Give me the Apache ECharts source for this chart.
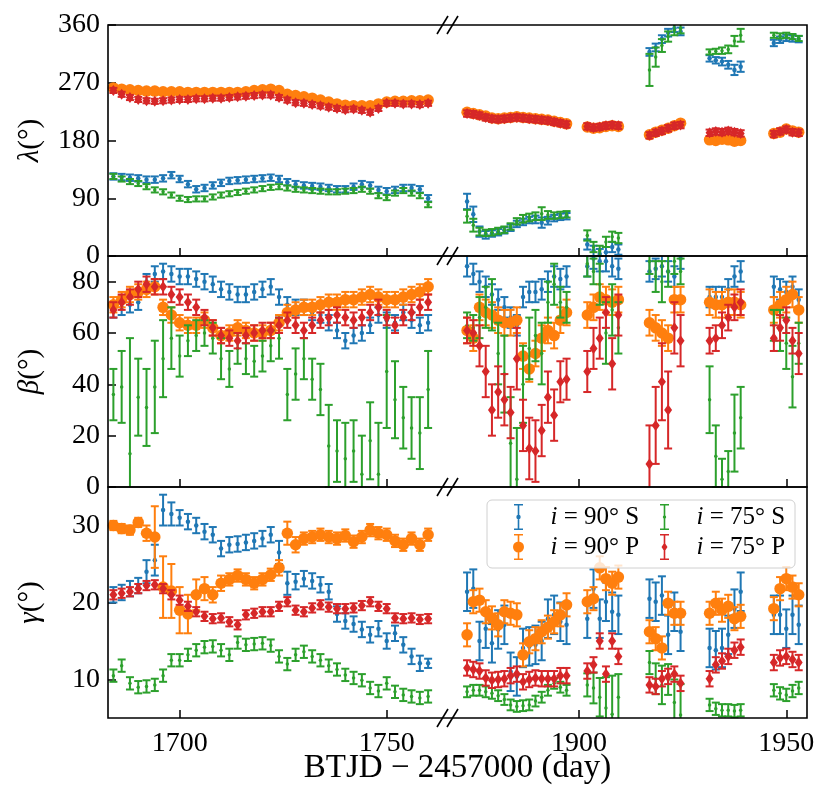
<!DOCTYPE html>
<html>
<head>
<meta charset="utf-8">
<script src="https://cdn.jsdelivr.net/npm/echarts@6/dist/echarts.min.js"></script>
<style>
  html, body { margin: 0; padding: 0; background: #fff; }
  #main { width: 831px; height: 799px; }
</style>
</head>
<body>
<div id="main"></div>
<script>
// time grid (BTJD - 2457000) for the two halves of the broken axis
var tL = [1684,1686,1688,1690,1692,1694,1696,1698,1700,1702,1704,1706,1708,1710,1712,1714,1716,1718,1720,1722,
          1724,1726,1728,1730,1732,1734,1736,1738,1740,1742,1744,1746,1748,1750,1752,1754,1756,1758,1760];
var tR = [1873,1874.5,1876,1877.5,1879,1880.5,1882,1883.5,1885,1886.5,1888,1889.5,1891,1892.5,1894,1895.5,1897,
          1902,1903.5,1905,1906.5,1908,1909.5,
          1917,1918.5,1920,1921.5,1923,1924.5,
          1931.5,1933,1934.5,1936,1937.5,1939,
          1947,1948.5,1950,1951.5,1953];

// lambda
var lamBlueL   = [124,123,122,121,119,119,121,126,120,112,104,106,110,114,117,118,119,120,121,122,120,115,112,110,109,108,106,104,104,108,112,110,103,101,103,106,106,104,90];
var lamOrangeL = [262,260,259,258,257,257,256,256,256,255,255,255,255,255,255,255,256,258,259,260,258,252,250,248,246,243,240,237,235,234,234,234,237,240,241,241,242,242,243];
var lamGreenL  = [124,120,116,113,108,103,100,95,90,88,89,89,92,95,97,99,101,103,105,107,108,106,104,103,102,101,100,100,101,102,104,101,94,91,98,102,98,94,80];
var lamRedL    = [258,252,247,244,242,241,242,243,244,244,245,245,246,246,247,248,249,250,251,251,247,243,239,238,236,234,232,230,228,229,227,224,230,238,238,237,237,236,238];
var lamBlueR   = [85,65,38,33,35,37,40,44,50,53,56,57,52,55,59,61,62, 18,8,3,6,14,10, 318,325,338,348,355,350, 308,305,303,298,290,295, 332,337,340,339,338];
var lamOrangeR = [224,222,220,218,215,214,215,216,217,216,215,214,213,212,210,208,206, 201,199,200,202,203,202, 189,193,196,199,203,207, 181,180,182,181,179,180, 191,193,198,195,193];
var lamGreenR  = [62,48,38,36,37,39,41,46,54,58,60,62,66,64,63,64,65, 32,14,8,22,30,28, 290,310,328,342,352,355, 318,319,320,322,335,344, 344,343,344,342,339];
var lamRedR    = [222,221,219,216,214,213,214,215,216,215,214,213,212,211,209,207,205, 202,200,201,203,204,203, 188,192,195,199,203,204, 192,194,193,195,193,191, 190,194,197,193,192];
var lamBlueErrR  = [12,12,8,6,5,5,5,5,5,5,5,6,8,6,5,5,5, 8,8,8,8,8,8, 6,6,6,6,6,6, 5,5,6,6,8,8, 5,5,5,5,5];
var lamGreenErrR = [10,10,6,5,5,5,5,5,5,6,6,6,10,6,5,5,5, 8,8,8,8,8,8, 25,15,10,8,8,8, 4,4,5,6,8,10, 4,4,4,4,4];

// beta
var betaBlueL   = [69,70,71,72,80,83,84,83,82,82,81,80,79,77,76,75,75,76,77,78,74,71,70,70,68,67,64,61,57,59,60,63,67,65,64,68,65,63,64];
var betaOrangeL = [71,73,75,76,77,78,70,67,64,63,63,65,62,59,60,62,61,60,60,61,64,68,69,70,70,71,72,72,73,73,74,75,74,73,73,74,75,76,78];
var betaGreenL  = [36,39,13,35,31,39,50,58,51,57,59,60,58,50,46,54,50,49,51,55,58,36,44,50,42,38,16,14,11,14,5,18,5,45,34,27,23,21,38];
var betaRedL    = [69,72,74,77,79,78,78,75,74,72,70,66,62,59,58,57,59,60,61,61,63,65,63,61,63,65,66,67,66,65,66,68,70,66,63,66,68,70,72];
var betaGreenErrL = [10,14,45,15,15,18,15,12,8,6,6,5,6,8,7,6,6,6,6,6,8,10,10,8,8,10,16,12,14,12,15,15,20,22,15,12,12,14,15];
var betaBlueR   = [86,83,80,78,75,73,70,66,63,74,76,76,77,80,82,81,82, 86,89,88,88,86,85, 84,85,86,84,82,89, 74,74,74,77,82,84, 78,77,76,78,73];
var betaOrangeR = [61,58,70,68,67,65,64,64,65,51,46,52,58,61,59,65,68, 67,70,74,73,72,73, 64,62,60,58,73,73, 72,71,71,72,72,71, 69,71,73,75,69];
var betaGreenR  = [63,62,66,70,71,52,44,17,3,40,54,59,52,72,79,72,70, 87,84,79,60,69,62, 88,82,80,84,88,84, 34,12,3,6,21,27, 63,61,56,43,56];
var betaRedR    = [61,60,55,45,30,37,34,29,50,24,15,14,22,35,28,41,42, 45,54,58,68,48,67, 9,24,41,30,62,57, 57,58,63,66,70,72, 58,62,65,57,52];
var betaGreenErrR = [5,5,8,8,10,12,15,18,20,15,12,10,12,8,8,6,6, 5,5,8,12,10,10, 5,6,8,6,5,5, 13,12,8,8,15,12, 6,8,10,12,8];
var betaRedErrR   = [5,5,8,10,10,10,10,10,12,10,12,12,10,10,10,8,8, 8,8,8,6,10,8, 15,15,15,15,10,10, 5,5,5,5,5,5, 5,5,5,5,8];

// gamma
var gamBlueL   = [21,21.3,21.8,22.2,24,25.5,32,31.5,31,30.5,30,29.2,28.8,27,27.5,27.6,27.8,28,28.3,28.8,26.5,22.5,22.7,23.1,22.8,22.3,21.4,18.5,17.6,17.2,16.5,15.8,16.6,15,16,14.5,13,12.1,12.1];
var gamOrangeL = [30,29.6,29.4,30.4,29,28.5,22,21.5,19,18.5,21,21.8,21,22.5,23,23.5,23,22.5,23,23.6,24.5,29,27.5,28.3,28.5,28.8,28.5,28.3,28.7,27.9,28.5,29.4,29,28.8,28,27.5,28.3,27.5,28.8];
var gamGreenL  = [10.5,11.8,9.5,9,9.1,9.3,10.5,12.5,12.5,13.2,13.8,14.2,14.3,13.8,13.2,14.8,14.5,14.6,14.7,14.4,13,12,13.2,13.6,13,12.5,11.8,11.3,10.6,10.2,9.9,8.9,8.5,9.5,8.4,8,7.8,7.6,7.8];
var gamRedL    = [21,21.2,21.4,21.8,22.2,22.3,21.8,21,20.3,19.5,18.8,18.2,17.9,18,17.5,17.1,18.4,18.6,18.8,18.8,19.5,20.1,19,18.8,19.3,19.7,19.4,19.2,19.2,19.3,19.6,20.1,19.5,19.2,18,17.9,18,17.8,17.9];
var gamBlueErrL   = [1,1,1,1,1.5,2,2,1.5,1,1,1,1,1,1,1,1,1,1,1,1,1.5,1.5,1,1,1,1,1,1,1,1,1,1,1,1,1,1,1,1,0.6];
var gamOrangeErrL = [0.6,0.6,0.6,0.6,1,4,4,3.5,3,2.5,2,1.5,1,1,0.8,0.8,0.8,0.8,0.8,0.8,1,1.5,1,0.8,0.8,0.8,0.8,0.8,0.8,0.8,0.8,0.8,0.8,0.8,0.8,0.8,0.8,0.8,0.8];
var gamBlueR   = [21.4,21.8,15,16.6,14.7,16.5,17.1,11,10.4,14.1,14.3,14.5,15,17.9,18.4,17.5,17.1, 17.9,21.8,17.9,20.1,18.8,18.4, 20.5,20.1,20.9,15.8,18.8,16.2, 14.1,13.8,14.1,15.8,19.2,21.4, 18.4,18.4,16.6,18.4,17.1];
var gamOrangeR = [15.8,20.1,20.3,18.8,18,17.1,18.8,18.6,18.4,13.2,14.9,15.3,16.2,16.8,17.5,18.4,19.7, 20.1,20.5,24.5,23.1,22.5,23.3, 16.2,15.3,14.1,19.9,18.6,18.6, 18.6,19.9,19,19.5,17.9,18.2, 19.2,21.8,23.1,22,21];
var gamGreenR  = [8.4,8.6,8.6,8.4,8.2,7.9,7.4,6.7,6.5,6.6,6.7,7.2,7.7,8.6,9.5,9,8.6, 9.3,8.9,7.7,6.3,5.5,7.7, 12.2,10.1,9.3,10,7,5.4, 6.7,6.2,6,6,5.9,6, 8.6,8.2,8,8.5,8.9];
var gamRedR    = [11.5,11.3,11.1,10.2,9.9,10,10.1,10.5,10.7,9.7,10,10.2,10.1,10.1,10.1,10.5,10.5, 11.1,11.9,15,10.7,15,13, 9.3,9.1,10.1,10.4,10.7,9.5, 10.1,11.9,12.4,13,13.8,14.2, 12.2,12.8,13,12.6,12.2];
var gamGreenErrR = [0.7,0.7,0.7,0.7,0.7,0.7,0.7,0.7,0.7,0.7,0.7,0.7,0.7,0.7,0.7,0.7,0.7, 1.5,2,2.5,4,5,3, 1.5,2,2.5,2,3,4, 0.8,0.8,0.8,0.8,0.8,0.8, 0.8,0.8,0.8,0.8,0.8];

// axes
var xRanges = [[1682.7, 1764.8], [1868.4, 1955]];
var xTicks = [[1700, 1750], [1900, 1950]];
var yRanges = [[0, 360], [0, 90], [5, 35]];
var yTicks = [[0, 90, 180, 270, 360], [0, 20, 40, 60, 80], [10, 20, 30]];
var yNames = ['{g|λ}(°)', '{g|β}(°)', '{g|γ}(°)'];
var names = ['i = 90° S', 'i = 90° P', 'i = 75° S', 'i = 75° P'];
var colors = ['#1f77b4', '#ff7f0e', '#2ca02c', '#d62728'];

var FONT = "'Liberation Serif', 'Times New Roman', serif";
var LEFT = 108, MID = 448, RIGHT = 807, TOPS = [25, 256, 487], H = 231;

var myChart = echarts.init(document.getElementById('main'));

// marker per series: '.', 'o', '.', 'd'
var symbols = ['circle', 'circle', 'circle', 'diamond'];
var symSizes = [4.5, 11.5, 3.5, [8, 11]];

// [row][col] -> values/errors for blue, orange, green, red
var panelData = [
  [
    [[lamBlueL, 5], [lamOrangeL, 2], [lamGreenL, 4], [lamRedL, 4]],
    [[lamBlueR, lamBlueErrR], [lamOrangeR, 2], [lamGreenR, lamGreenErrR], [lamRedR, 5]]
  ],
  [
    [[betaBlueL, 3], [betaOrangeL, 3], [betaGreenL, betaGreenErrL], [betaRedL, 3]],
    [[betaBlueR, 4], [betaOrangeR, 5], [betaGreenR, betaGreenErrR], [betaRedR, betaRedErrR]]
  ],
  [
    [[gamBlueL, gamBlueErrL], [gamOrangeL, gamOrangeErrL], [gamGreenL, 0.8], [gamRedL, 0.6]],
    [[gamBlueR, 2.5], [gamOrangeR, 1.5], [gamGreenR, gamGreenErrR], [gamRedR, 1]]
  ]
];

function renderErr(params, api) {
  var cs = params.coordSys;
  var x = api.value(0), y = api.value(1), e = api.value(2);
  var p1 = api.coord([x, y + e]);
  var p2 = api.coord([x, y - e]);
  var top = Math.max(p1[1], cs.y);
  var bot = Math.min(p2[1], cs.y + cs.height);
  if (top > bot) return;
  var st = { stroke: api.visual('color'), lineWidth: 2 };
  var kids = [{ type: 'line', shape: { x1: p1[0], y1: top, x2: p1[0], y2: bot }, style: st }];
  if (p1[1] >= cs.y) kids.push({ type: 'line', shape: { x1: p1[0] - 4, y1: p1[1], x2: p1[0] + 4, y2: p1[1] }, style: st });
  if (p2[1] <= cs.y + cs.height) kids.push({ type: 'line', shape: { x1: p2[0] - 4, y1: p2[1], x2: p2[0] + 4, y2: p2[1] }, style: st });
  return { type: 'group', children: kids };
}

var grids = [], xAxes = [], yAxes = [], series = [];
for (var r = 0; r < 3; r++) {
  for (var c = 0; c < 2; c++) {
    var gi = r * 2 + c;
    grids.push({ left: c ? MID : LEFT, width: c ? RIGHT - MID : MID - LEFT, top: TOPS[r], height: H });
    xAxes.push({
      gridIndex: gi, type: 'value', min: xRanges[c][0], max: xRanges[c][1],
      axisLine: { show: false }, splitLine: { show: false },
      axisTick: { show: true, inside: true, length: 8, customValues: xTicks[c], lineStyle: { color: '#000', width: 1.5 } },
      axisLabel: { show: r === 2, customValues: xTicks[c], margin: 12, fontFamily: FONT, fontSize: 28, color: '#000',
        formatter: function (v) { return String(v); } }
    });
    if (c === 0) {
      yAxes.push({
        gridIndex: gi, type: 'value', min: yRanges[r][0], max: yRanges[r][1],
        axisLine: { show: false }, splitLine: { show: false },
        axisTick: { show: true, inside: true, length: 8, customValues: yTicks[r], lineStyle: { color: '#000', width: 1.5 } },
        axisLabel: { customValues: yTicks[r], margin: 8, fontFamily: FONT, fontSize: 28, color: '#000' },
        name: yNames[r], nameLocation: 'middle', nameRotate: 90, nameGap: 63,
        nameTextStyle: { fontFamily: FONT, fontSize: 29, color: '#000',
          rich: { g: { fontFamily: FONT, fontSize: 29, fontStyle: 'italic', color: '#000' } } }
      });
    } else {
      yAxes.push({
        gridIndex: gi, type: 'value', min: yRanges[r][0], max: yRanges[r][1],
        axisLine: { show: false }, splitLine: { show: false }, axisTick: { show: false }, axisLabel: { show: false }
      });
    }
    var times = c ? tR : tL;
    for (var k = 0; k < 4; k++) {
      var vals = panelData[r][c][k][0];
      var errs = panelData[r][c][k][1];
      var errData = [], markData = [];
      for (var i = 0; i < times.length; i++) {
        errData.push([times[i], vals[i], Array.isArray(errs) ? errs[i] : errs]);
        markData.push([times[i], vals[i]]);
      }
      series.push({
        type: 'custom', name: names[k], xAxisIndex: gi, yAxisIndex: gi, z: 2 + k, silent: true,
        itemStyle: { color: colors[k] }, encode: { x: 0, y: 1 },
        renderItem: renderErr, data: errData
      });
      series.push({
        type: 'scatter', name: names[k], xAxisIndex: gi, yAxisIndex: gi, z: 2 + k, silent: true, clip: true,
        symbol: symbols[k], symbolSize: symSizes[k], itemStyle: { color: colors[k], opacity: 1 },
        data: markData
      });
    }
  }
}

// legend icons: errorbar with marker
var bar = 'M1.5,0 h9 v1.6 h-9 Z M5.2,0 h1.6 v26 h-1.6 Z M1.5,24.4 h9 v1.6 h-9 Z ';
var icons = [
  'path://' + bar + 'M3.8,13 a2.2,2.2 0 1,1 4.4,0 a2.2,2.2 0 1,1 -4.4,0 Z',
  'path://' + bar + 'M0.5,13 a5.5,5.5 0 1,1 11,0 a5.5,5.5 0 1,1 -11,0 Z',
  'path://' + bar + 'M4.3,13 a1.7,1.7 0 1,1 3.4,0 a1.7,1.7 0 1,1 -3.4,0 Z',
  'path://' + bar + 'M6,8.5 L9,13 L6,17.5 L3,13 Z'
];

function makeLegend(ks, left) {
  return {
    z: 20, left: left, top: 504, orient: 'vertical',
    padding: 0, itemGap: 4, itemWidth: 14, itemHeight: 26,
    selectedMode: false,
    data: ks.map(function (k) {
      return { name: names[k], icon: icons[k], itemStyle: { color: colors[k] } };
    }),
    formatter: function (name) { return '{s|}{i|i}' + name.slice(1); },
    textStyle: {
      fontFamily: FONT, fontSize: 25, color: '#000',
      rich: {
        s: { width: 20 },
        i: { fontFamily: FONT, fontSize: 25, fontStyle: 'italic', color: '#000' }
      }
    }
  };
}

// frames, legend box and axis-break marks
var graphics = [];
for (var r2 = 0; r2 < 3; r2++) {
  graphics.push({ type: 'rect', z: 50, silent: true,
    shape: { x: LEFT, y: TOPS[r2], width: RIGHT - LEFT, height: H },
    style: { fill: null, stroke: '#000', lineWidth: 1.6 } });
}
graphics.push({ type: 'rect', z: 15, silent: true,
  shape: { x: 487, y: 500, width: 308, height: 68, r: 5 },
  style: { fill: 'rgba(255,255,255,0.8)', stroke: '#d0d0d0', lineWidth: 1 } });
[TOPS[0], TOPS[1], TOPS[2], TOPS[2] + H].forEach(function (y) {
  graphics.push({ type: 'line', z: 51, silent: true, shape: { x1: MID - 11, y1: y + 9, x2: MID, y2: y - 9 }, style: { stroke: '#000', lineWidth: 1.6 } });
  graphics.push({ type: 'line', z: 51, silent: true, shape: { x1: MID - 1, y1: y + 9, x2: MID + 10, y2: y - 9 }, style: { stroke: '#000', lineWidth: 1.6 } });
});
graphics.push({ type: 'text', z: 51, silent: true, x: (LEFT + RIGHT) / 2, y: 768,
  style: { text: 'BTJD − 2457000 (day)', fontFamily: FONT, fontSize: 33, fill: '#000', align: 'center', verticalAlign: 'middle' } });

var option = {
  animation: false,
  backgroundColor: '#fff',
  grid: grids,
  xAxis: xAxes,
  yAxis: yAxes,
  legend: [makeLegend([0, 1], 513), makeLegend([2, 3], 660)],
  graphic: graphics,
  series: series
};

myChart.setOption(option);
</script>
</body>
</html>
